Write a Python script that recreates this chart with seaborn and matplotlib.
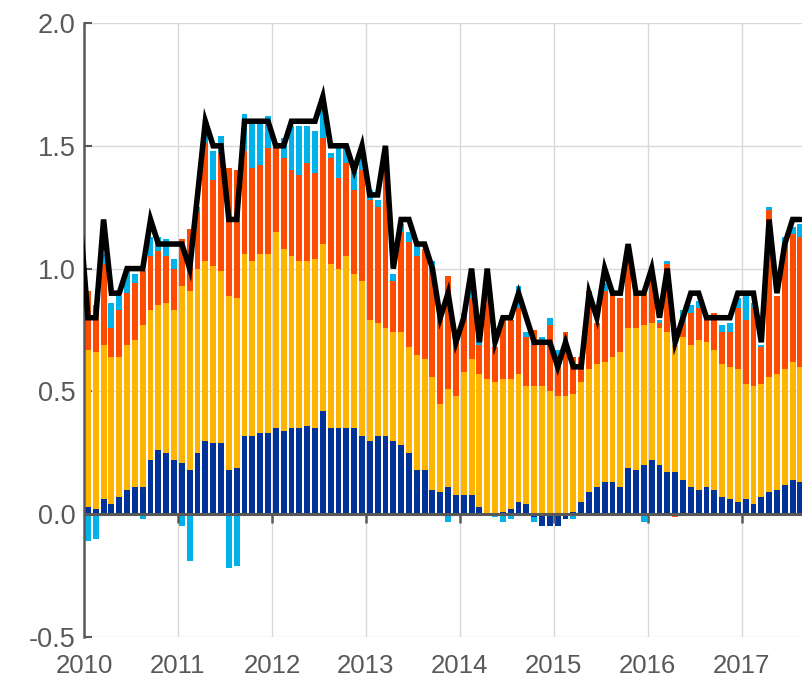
import numpy as np
import pandas as pd
import matplotlib
matplotlib.use('Agg')
import matplotlib.pyplot as plt
import seaborn as sns

# monthly contributions, Jan 2010 .. Aug 2017
years = ['2010', '2011', '2012', '2013', '2014', '2015', '2016', '2017']

blue_vals = [0.03, 0.02, 0.06, 0.04, 0.07, 0.10, 0.11, 0.11, 0.22, 0.26, 0.25, 0.22,
             0.21, 0.18, 0.25, 0.30, 0.29, 0.29, 0.18, 0.19, 0.32, 0.32, 0.33, 0.33,
             0.35, 0.34, 0.35, 0.35, 0.36, 0.35, 0.42, 0.35, 0.35, 0.35, 0.35, 0.32,
             0.30, 0.32, 0.32, 0.30, 0.28, 0.25, 0.18, 0.18, 0.10, 0.09, 0.11, 0.08,
             0.08, 0.08, 0.03, 0.00, 0.00, 0.01, 0.02, 0.05, 0.04, -0.01, -0.05, -0.05,
             -0.05, -0.02, 0.01, 0.05, 0.09, 0.11, 0.13, 0.13, 0.11, 0.19, 0.18, 0.20,
             0.22, 0.20, 0.17, 0.17, 0.14, 0.11, 0.10, 0.11, 0.10, 0.07, 0.06, 0.05,
             0.06, 0.04, 0.07, 0.09, 0.10, 0.12, 0.14, 0.13]

yellow_vals = [0.64, 0.64, 0.63, 0.60, 0.57, 0.59, 0.60, 0.66, 0.61, 0.59, 0.61, 0.61,
               0.72, 0.73, 0.75, 0.73, 0.72, 0.70, 0.71, 0.69, 0.74, 0.71, 0.73, 0.73,
               0.80, 0.74, 0.70, 0.68, 0.67, 0.69, 0.68, 0.67, 0.65, 0.70, 0.63, 0.63,
               0.49, 0.46, 0.44, 0.44, 0.46, 0.43, 0.47, 0.45, 0.46, 0.36, 0.40, 0.40,
               0.50, 0.55, 0.54, 0.55, 0.54, 0.54, 0.53, 0.52, 0.48, 0.52, 0.52, 0.50,
               0.48, 0.48, 0.48, 0.49, 0.50, 0.50, 0.49, 0.51, 0.55, 0.57, 0.58, 0.57,
               0.56, 0.56, 0.57, 0.52, 0.58, 0.58, 0.61, 0.59, 0.57, 0.54, 0.54, 0.54,
               0.47, 0.48, 0.46, 0.47, 0.47, 0.47, 0.48, 0.47]

orange_vals = [0.24, 0.19, 0.33, 0.12, 0.19, 0.21, 0.23, 0.22, 0.22, 0.22, 0.19, 0.17,
               0.19, 0.25, 0.23, 0.48, 0.35, 0.48, 0.52, 0.52, 0.42, 0.38, 0.36, 0.43,
               0.35, 0.37, 0.35, 0.35, 0.40, 0.35, 0.43, 0.43, 0.37, 0.38, 0.34, 0.45,
               0.49, 0.47, 0.70, 0.21, 0.41, 0.43, 0.40, 0.45, 0.44, 0.37, 0.46, 0.25,
               0.22, 0.25, 0.12, 0.39, 0.14, 0.24, 0.24, 0.27, 0.20, 0.23, 0.19, 0.27,
               0.16, 0.26, 0.15, 0.10, 0.32, 0.17, 0.29, 0.26, 0.22, 0.28, 0.14, 0.13,
               0.18, 0.02, 0.28, -0.01, 0.06, 0.13, 0.13, 0.10, 0.15, 0.13, 0.14, 0.25,
               0.26, 0.32, 0.15, 0.68, 0.32, 0.51, 0.52, 0.53]

cyan_vals = [-0.11, -0.10, 0.04, 0.10, 0.06, 0.10, 0.04, -0.02, 0.08, 0.06, 0.07, 0.04,
             -0.05, -0.19, 0.02, 0.05, 0.12, 0.07, -0.22, -0.21, 0.15, 0.18, 0.18, 0.13,
             0.00, 0.08, 0.18, 0.20, 0.15, 0.17, 0.14, 0.02, 0.13, 0.06, 0.09, 0.06,
             0.04, 0.03, 0.00, 0.03, 0.03, 0.04, 0.04, 0.00, 0.03, 0.00, -0.03, 0.00,
             0.02, 0.03, 0.02, 0.00, -0.01, -0.03, -0.02, 0.09, 0.02, -0.02, 0.01, 0.03,
             0.03, 0.00, -0.02, 0.00, 0.00, 0.00, 0.03, 0.01, 0.00, 0.00, 0.00, -0.03,
             0.00, 0.01, 0.01, 0.00, 0.05, 0.03, 0.03, 0.00, 0.00, 0.03, 0.04, 0.04,
             0.12, 0.02, 0.01, 0.01, 0.00, 0.03, 0.03, 0.05]

# headline line, starts with Dec 2009
line_vals = [1.2,
             0.8, 0.8, 1.2, 0.9, 0.9, 1.0, 1.0, 1.0, 1.2, 1.1, 1.1, 1.1,
             1.1, 1.0, 1.3, 1.6, 1.5, 1.5, 1.2, 1.2, 1.6, 1.6, 1.6, 1.6,
             1.5, 1.5, 1.6, 1.6, 1.6, 1.6, 1.7, 1.5, 1.5, 1.5, 1.4, 1.5,
             1.3, 1.3, 1.5, 1.0, 1.2, 1.2, 1.1, 1.1, 1.0, 0.8, 0.9, 0.7,
             0.8, 1.0, 0.7, 1.0, 0.7, 0.8, 0.8, 0.9, 0.8, 0.7, 0.7, 0.7,
             0.6, 0.7, 0.6, 0.6, 0.9, 0.8, 1.0, 0.9, 0.9, 1.1, 0.9, 0.9,
             1.0, 0.8, 1.0, 0.7, 0.8, 0.9, 0.9, 0.8, 0.8, 0.8, 0.8, 0.9,
             0.9, 0.9, 0.7, 1.2, 0.9, 1.1, 1.2, 1.2]

colors = ['#003299', '#FFB400', '#FF4B00', '#00B1EA']
grey = '#595959'
grid_c = '#D9D9D9'

sns.set_theme(style='white')
plt.rcParams['font.family'] = ['Liberation Sans', 'DejaVu Sans']
plt.rcParams['axes.unicode_minus'] = False

n = len(blue_vals)
x = np.arange(n)

fig = plt.figure(figsize=(8.02, 6.77), dpi=100)
ax = fig.add_axes([84 / 802, 40 / 677, 1 - 84 / 802, 614 / 677])

pos = np.zeros(n)
neg = np.zeros(n)
for vals, col in zip([blue_vals, yellow_vals, orange_vals, cyan_vals], colors):
    v = np.array(vals)
    bottom = np.where(v >= 0, pos, neg)
    ax.bar(x, v, width=0.75, bottom=bottom, color=col, linewidth=0, zorder=2)
    pos += np.clip(v, 0, None)
    neg += np.clip(v, None, 0)

df_line = pd.DataFrame({'x': np.arange(-1, n), 'y': line_vals})
sns.lineplot(data=df_line, x='x', y='y', ax=ax, color='black', linewidth=4.0,
             zorder=4, solid_joinstyle='miter')

year_pos = np.arange(len(years)) * 12 - 0.5
ax.set_xlim(-0.5, 91.2)
ax.set_ylim(-0.5, 2.0)
ax.set_xticks(year_pos)
ax.set_xticklabels(years)
ax.set_yticks(np.arange(-0.5, 2.01, 0.5))
ax.set_yticklabels(['-0.5', '0.0', '0.5', '1.0', '1.5', '2.0'])

ax.grid(True, color=grid_c, linewidth=1.0, zorder=0)
ax.set_axisbelow(True)
ax.axhline(0, color=grey, linewidth=2.2, zorder=3)
ax.vlines(year_pos[1:], -0.034, 0, color=grey, linewidth=1.8, zorder=3)

for s in ['top', 'right', 'bottom']:
    ax.spines[s].set_visible(False)
ax.spines['left'].set_color(grey)
ax.spines['left'].set_linewidth(1.8)

ax.tick_params(axis='y', direction='in', length=6, width=1.5, color=grey,
               labelsize=19.5, labelcolor=grey, pad=6, left=True)
ax.tick_params(axis='x', length=0, labelsize=18.5, labelcolor=grey, pad=12)
ax.set_xlabel('')
ax.set_ylabel('')

fig.savefig('out.png', dpi=100)
